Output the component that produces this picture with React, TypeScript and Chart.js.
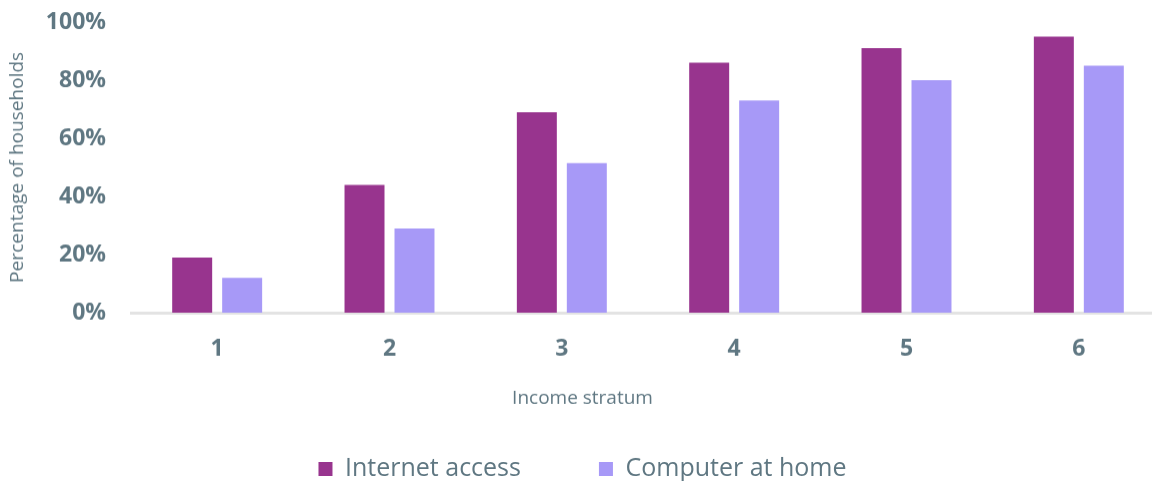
import { useEffect, useRef } from 'react';
import { Chart, registerables } from 'chart.js';

Chart.register(...registerables);

const categories = ['1', '2', '3', '4', '5', '6'];
const internetAccess = [19, 44, 69, 86, 91, 95];
const computerAtHome = [12, 29, 51.5, 73, 80, 85];
const seriesLabels = ['Internet access', 'Computer at home'];
const yTickStep = 20;
const yMax = 100;
const xTitle = 'Income stratum';
const yTitle = 'Percentage of households';

const TEXT = '#5f7782';
const FONT = "'Open Sans', sans-serif";

export default function App() {
  const ref = useRef<HTMLCanvasElement>(null);
  useEffect(() => {
    document.documentElement.style.overflow = 'hidden';
    document.body.style.overflow = 'hidden';
    Chart.defaults.font.family = FONT;
    const chart = new Chart(ref.current!, {
      type: 'bar',
      data: {
        labels: categories,
        datasets: [
          {
            label: seriesLabels[0],
            data: internetAccess,
            backgroundColor: '#98348e',
            categoryPercentage: 0.58,
            barPercentage: 0.8,
          },
          {
            label: seriesLabels[1],
            data: computerAtHome,
            backgroundColor: '#a799f7',
            categoryPercentage: 0.58,
            barPercentage: 0.8,
          },
        ],
      },
      options: {
        animation: false,
        responsive: true,
        maintainAspectRatio: false,
        layout: { padding: { top: 22, left: 0, right: 3, bottom: 0 } },
        scales: {
          x: {
            grid: { display: false, drawTicks: false },
            border: { display: true, color: '#e3e3e3', width: 3 },
            ticks: { color: TEXT, font: { size: 23, weight: 'bold' }, padding: 23 },
            afterFit: (scale: any) => {
              scale.height = 48;
            },
          },
          y: {
            min: 0,
            max: yMax,
            grid: { display: false, drawTicks: true, tickLength: 25 },
            border: { display: false },
            ticks: {
              stepSize: yTickStep,
              color: TEXT,
              font: { size: 23, weight: 'bold' },
              padding: 0,
              callback: (v: any) => v + '%',
            },
            title: {
              display: true,
              text: yTitle,
              color: TEXT,
              font: { size: 19 },
              padding: { top: 6.6, bottom: 0 },
            },
            afterFit: (scale: any) => {
              scale.width = 131;
            },
          },
        },
        plugins: {
          legend: {
            position: 'bottom',
            title: {
              display: true,
              text: xTitle,
              color: TEXT,
              font: { size: 19 },
              padding: { top: 28.5, bottom: -33.8 },
            },
            labels: {
              color: TEXT,
              font: { size: 25 },
              boxWidth: 14,
              boxHeight: 14,
              padding: 78,
            },
          },
          tooltip: { enabled: false },
        },
      },
    });
    return () => chart.destroy();
  }, []);
  return (
    <div style={{ position: 'absolute', left: 0, top: 0, width: 1168, height: 490.5 }}>
      <canvas ref={ref} />
    </div>
  );
}
